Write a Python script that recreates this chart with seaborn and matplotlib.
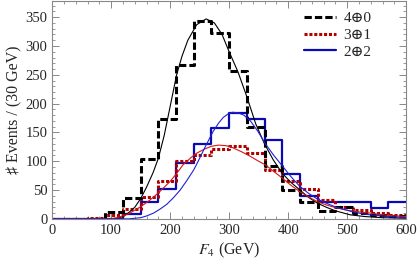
import numpy as np
import pandas as pd
import matplotlib
matplotlib.use("Agg")
import matplotlib.pyplot as plt
from matplotlib.lines import Line2D
from matplotlib.ticker import MultipleLocator
import seaborn as sns

# histogram contents, 30 GeV bins (left edges)
bin_left = [0, 30, 60, 90, 120, 150, 180, 210, 240, 270,
            300, 330, 360, 390, 420, 450, 480, 510, 540, 570]
counts_40 = [0, 0, 0, 12, 37, 104, 174, 267, 344, 323,
             256, 160, 92, 50, 30, 14, 20, 10, 7, 5]
counts_31 = [0, 0, 1, 7, 17, 38, 65, 100, 111, 121,
             126, 115, 84, 65, 51, 32, 21, 16, 11, 7]
counts_22 = [0, 0, 0, 0, 8, 30, 52, 97, 130, 158,
             184, 173, 137, 78, 40, 30, 30, 29, 18, 30]

# fitted curves, points
fit40_x = [0, 100, 110, 120, 130, 140, 150, 160, 171, 180, 190, 200, 211, 220, 230, 245,
           261, 275, 288, 300, 315, 330, 345, 360, 375, 390, 405, 420, 435, 450, 465,
           480, 505, 530, 560, 600]
fit40_y = [0, 0, 1, 4, 11, 20, 35, 55, 80, 105, 145, 195, 250, 282, 310, 337,
           347, 340, 320, 290, 255, 212, 165, 130, 102, 79, 63, 50, 37, 27, 20,
           14, 7, 4, 2, 1]
fit31_x = [0, 100, 110, 120, 130, 140, 150, 165, 180, 190, 200, 212, 222, 235, 245, 258,
           270, 282, 295, 305, 320, 335, 350, 361, 376, 391, 405, 420, 435, 449, 465,
           482, 500, 520, 539, 570, 600]
fit31_y = [0, 0, 2, 5, 9, 15, 21, 32, 45, 55, 65, 80, 94, 106, 114, 121,
           126, 128, 127, 124, 117, 109, 100, 94, 82, 70, 58, 47, 38, 30, 24,
           19, 15, 12, 10, 6, 4]
fit22_x = [0, 130, 140, 150, 160, 172, 183, 194, 205, 217, 228, 240, 248, 256, 265, 273,
           282, 290, 298, 306, 315, 325, 336, 348, 361, 375, 390, 405, 420, 435, 450,
           465, 482, 496, 510, 525, 539, 570, 600]
fit22_y = [0, 0, 1, 2, 5, 10, 17, 25, 36, 50, 66, 85, 101, 118, 136, 152,
           166, 176, 182, 185, 184, 180, 170, 153, 131, 111, 92, 73, 56, 44, 34,
           27, 20, 16, 12, 9, 7, 4, 2]

labels = ["4\u22950", "3\u22951", "2\u22952"]

c40, c31, c22 = "black", "#b00000", "#0a0ab4"
f40, f31, f22 = "black", "#d01818", "#2020d8"

sns.set_style("ticks")
plt.rcParams["font.family"] = ["Liberation Serif", "DejaVu Serif"]
plt.rcParams["mathtext.fontset"] = "stix"

fig, ax = plt.subplots(figsize=(4.17, 2.64), dpi=100)
fig.subplots_adjust(left=0.125, right=0.974, bottom=0.171, top=0.996)

edges = list(range(0, 601, 30))
hist = pd.DataFrame({"F4": [b + 15 for b in bin_left],
                     "n40": counts_40, "n31": counts_31, "n22": counts_22})

sns.histplot(data=hist, x="F4", weights="n22", bins=edges, element="step", fill=False,
             color=c22, linewidth=1.6, ax=ax)
sns.histplot(data=hist, x="F4", weights="n31", bins=edges, element="step", fill=False,
             color=c31, linewidth=2.2, linestyle=(0, (1.0, 0.6)), ax=ax)
sns.histplot(data=hist, x="F4", weights="n40", bins=edges, element="step", fill=False,
             color=c40, linewidth=2.2, linestyle=(0, (2.4, 1.0)), ax=ax)

sns.lineplot(x=fit40_x, y=fit40_y, color=f40, linewidth=0.8, ax=ax)
sns.lineplot(x=fit31_x, y=fit31_y, color=f31, linewidth=0.8, ax=ax)
sns.lineplot(x=fit22_x, y=fit22_y, color=f22, linewidth=0.8, ax=ax)

ax.set_xlim(0, 600)
ax.set_ylim(0, 378)
ax.xaxis.set_major_locator(MultipleLocator(100))
ax.xaxis.set_minor_locator(MultipleLocator(20))
ax.yaxis.set_major_locator(MultipleLocator(50))
ax.yaxis.set_minor_locator(MultipleLocator(10))
ax.tick_params(which="both", direction="in", top=True, right=True, color="#888888",
               labelsize=10.5)
ax.tick_params(which="major", length=5, width=0.7)
ax.tick_params(which="minor", length=2.5, width=0.6)
for sp in ax.spines.values():
    sp.set_color("#888888")
    sp.set_linewidth(0.8)

ax.set_xlabel("$F_4$ (GeV)", fontsize=11.5, labelpad=3)
ax.set_ylabel("\u266f Events / (30 GeV)", fontsize=11.5, labelpad=2)

handles = [
    Line2D([], [], color=c40, linewidth=2.2, linestyle=(0, (2.4, 1.0))),
    Line2D([], [], color=c31, linewidth=2.2, linestyle=(0, (1.0, 0.6))),
    Line2D([], [], color=c22, linewidth=1.6),
]
ax.legend(handles, labels, loc="upper left", bbox_to_anchor=(0.672, 1.015), frameon=False,
          fontsize=11, handlelength=2.1, handletextpad=0.5, labelspacing=0.2)

fig.savefig("out.png", dpi=100)
